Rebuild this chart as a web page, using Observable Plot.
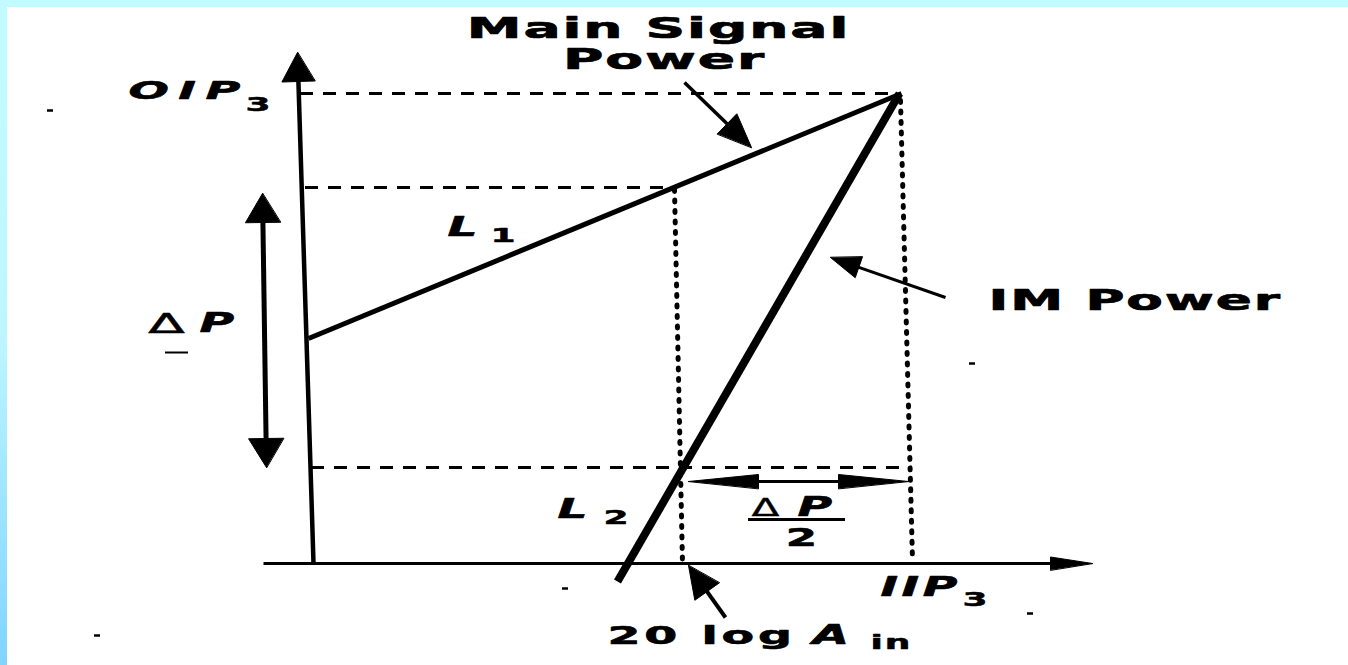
<!DOCTYPE html>
<html><head><meta charset="utf-8">
<script src="https://cdn.jsdelivr.net/npm/d3@7"></script>
<script src="https://cdn.jsdelivr.net/npm/@observablehq/plot@0.6"></script>
<style>
html,body{margin:0;padding:0;background:#fff;}
#wrap{position:relative;width:1348px;height:665px;overflow:hidden;background:#fff;}
#bandTop{position:absolute;left:0;top:0;width:1348px;height:7px;background:#c2fbff;}
#bandLeft{position:absolute;left:0;top:0;width:7px;height:665px;background:linear-gradient(#c2fbff 0%, #bdf6ff 50%, #80d4ff 100%);}
svg{display:block}
</style></head><body>
<div id="wrap"><div id="chart"></div><div id="bandTop"></div><div id="bandLeft"></div></div>
<script>
// Diagram units: origin at the crossing of the power axes, y upward.
const L1 = [{x: -5, y: 225}, {x: 588, y: 470}];      // main signal power line
const L2 = [{x: 304, y: -18}, {x: 586, y: 470}];     // IM power line
const dashedLevels = [
  {name: "OIP3", y: 470, x1: -13, x2: 584},
  {name: "P1", y: 376, x1: -8, x2: 357},
  {name: "P2", y: 96, x1: -2, x2: 599}
];
const dottedDrops = [
  {name: "20logAin", x1: 361, y1: 374, x2: 369, y2: 0},
  {name: "IIP3", x1: 587, y1: 463, x2: 599, y2: 3}
];
const arrowList = [
  {id: "yAxis", x1: 0, y1: 0, x2: -16, y2: 511, double: false},
  {id: "xAxis", x1: -50, y1: 0, x2: 779, y2: 0, double: false},
  {id: "deltaP", x1: -47, y1: 96, x2: -51, y2: 370, double: true},
  {id: "deltaP2", x1: 375, y1: 82, x2: 595, y2: 82, double: true},
  {id: "mainSignal", x1: 371, y1: 481, x2: 438, y2: 416, double: false},
  {id: "imPower", x1: 632, y1: 266, x2: 517, y2: 306, double: false},
  {id: "ain", x1: 412, y1: -54, x2: 375, y2: -2, double: false}
];
const titleLines = [
  {text: "Main Signal", x: 345, y: 526},
  {text: "Power", x: 351, y: 495}
];
const imLabel = [{text: "IM Power", x: 675, y: 254}];
const oipLabel = [{text: "OIP", x: -185, y: 465}];
const italicLabels = [
  {text: "L", x: 134, y: 328},
  {text: "L", x: 244, y: 46},
  {text: "P", x: -114, y: 232},
  {text: "P", x: 484, y: 48},
  {text: "IIP", x: 567, y: -32},
  {text: "A", x: 499, y: -80}
];
const subLabels = [
  {text: "3", x: -68, y: 453},
  {text: "1", x: 177, y: 322},
  {text: "2", x: 290, y: 40},
  {text: "3", x: 649, y: -42},
  {text: "in", x: 557, y: -85}
];
const deltaLeft = [{text: "Δ", x: -147, y: 231}];
const deltaFraction = [{text: "Δ", x: 452, y: 48}];
const uprightLabels = [{text: "20 log", x: 294, y: -80}];
const denominators = [{text: "2", x: 488, y: 18}];
const bars = [
  {name: "under ΔP", x1: -148, x2: -125, y: 211},
  {name: "ΔP/2 bar", x1: 435, x2: 532, y: 44}
];
const specks = [
  {x: -263, y: 453}, {x: -216, y: -72}, {x: 252, y: -25}, {x: 717, y: -50}, {x: 659, y: 200}
];

// styles (not data)
const arrowStyle = {
  yAxis: {w: 4.5, len: 29, wid: 33},
  xAxis: {w: 3, len: 42, wid: 13},
  deltaP: {w: 5, len: 29, wid: 35},
  deltaP2: {w: 3, len: 70, wid: 14},
  mainSignal: {w: 3.5, len: 34, wid: 28},
  imPower: {w: 3, len: 30, wid: 22},
  ain: {w: 4, len: 32, wid: 30}
};

// build shafts and heads
const shafts = [], heads = [];
for (const a of arrowList) {
  const s = arrowStyle[a.id];
  const dx = a.x2 - a.x1, dy = a.y2 - a.y1, L = Math.hypot(dx, dy);
  const ux = dx / L, uy = dy / L, nx = -uy, ny = ux;
  const head = (tx, ty, sx, sy, key) => {
    heads.push({id: key, x: tx, y: ty});
    heads.push({id: key, x: tx - sx * s.len + nx * s.wid / 2, y: ty - sy * s.len + ny * s.wid / 2});
    heads.push({id: key, x: tx - sx * s.len - nx * s.wid / 2, y: ty - sy * s.len - ny * s.wid / 2});
  };
  head(a.x2, a.y2, ux, uy, a.id + "-end");
  let sx1 = a.x1, sy1 = a.y1;
  if (a.double) {
    head(a.x1, a.y1, -ux, -uy, a.id + "-start");
    sx1 = a.x1 + ux * s.len * 0.8; sy1 = a.y1 + uy * s.len * 0.8;
  }
  shafts.push({x1: sx1, y1: sy1, x2: a.x2 - ux * s.len * 0.8, y2: a.y2 - uy * s.len * 0.8, w: s.w});
}

const font = "DejaVu Sans";
const textGroups = [
  {data: titleLines, anchor: "middle", size: 29, weight: "bold", style: "normal", sx: 1.9, ls: 1, sw: 0.7},
  {data: imLabel, anchor: "start", size: 28, weight: "bold", style: "normal", sx: 1.9, ls: 1, sw: 0.7},
  {data: oipLabel, anchor: "start", size: 25, weight: "bold", style: "italic", sx: 1.9, ls: 5, sw: 0.6},
  {data: italicLabels, anchor: "start", size: 27, weight: "bold", style: "italic", sx: 1.75, ls: 2, sw: 0.6},
  {data: subLabels, anchor: "start", size: 20, weight: "bold", style: "normal", sx: 1.8, ls: 1, sw: 0.5},
  {data: deltaLeft, anchor: "middle", size: 27, weight: "normal", style: "normal", sx: 2.0, ls: 0, sw: 0.4},
  {data: deltaFraction, anchor: "middle", size: 24, weight: "normal", style: "normal", sx: 1.7, ls: 0, sw: 0.4},
  {data: uprightLabels, anchor: "start", size: 25, weight: "bold", style: "normal", sx: 1.9, ls: 2, sw: 0.6},
  {data: denominators, anchor: "middle", size: 25, weight: "bold", style: "normal", sx: 1.8, ls: 0, sw: 0.6}
];

const chart = Plot.plot({
  width: 1348, height: 665,
  margin: 0,
  x: {domain: [-313, 1035], range: [0, 1348], axis: null},
  y: {domain: [-102, 563], range: [665, 0], axis: null},
  style: {background: "transparent", overflow: "visible"},
  marks: [
    Plot.ruleY(dashedLevels, {y: "y", x1: "x1", x2: "x2", stroke: "black", strokeWidth: 2.8, strokeDasharray: "13,10"}),
    Plot.link(dottedDrops, {x1: "x1", y1: "y1", x2: "x2", y2: "y2", stroke: "black", strokeWidth: 5, strokeDasharray: "2,8.5", strokeLinecap: "round"}),
    Plot.line(L1, {x: "x", y: "y", stroke: "black", strokeWidth: 5, strokeLinecap: "butt"}),
    Plot.line(L2, {x: "x", y: "y", stroke: "black", strokeWidth: 8, strokeLinecap: "butt"}),
    Plot.link(shafts, {x1: "x1", y1: "y1", x2: "x2", y2: "y2", stroke: "black", strokeWidth: "w", strokeLinecap: "butt"}),
    Plot.line(heads, {x: "x", y: "y", z: "id", fill: "black", stroke: "black", strokeWidth: 1, curve: "linear-closed"}),
    Plot.ruleY(bars, {y: "y", x1: "x1", x2: "x2", stroke: "black", strokeWidth: (d, i) => i === 0 ? 2 : 3}),
    Plot.ruleY(specks, {y: "y", x1: d => d.x - 3, x2: d => d.x + 3, stroke: "black", strokeWidth: 2.5}),
    ...textGroups.map(g => Plot.text(g.data, {x: "x", y: "y", text: "text", textAnchor: g.anchor, lineAnchor: "bottom",
      fontFamily: font, fontWeight: g.weight, fontStyle: g.style, fontSize: g.size, fill: "black",
      stroke: "black", strokeWidth: g.sw}))
  ]
});

// horizontal stretching of the wide typeface used in the original figure
const textMarks = chart.querySelectorAll('g[aria-label="text"]');
textMarks.forEach((g, k) => {
  const cfg = textGroups[k];
  if (!cfg) return;
  g.style.letterSpacing = cfg.ls + "px";
  g.setAttribute("paint-order", "normal");
  g.querySelectorAll("text").forEach(t => {
    let tr = t.getAttribute("transform") || "";
    if (!tr && (t.hasAttribute("x") || t.hasAttribute("y"))) {
      tr = `translate(${t.getAttribute("x") || 0},${t.getAttribute("y") || 0})`;
      t.removeAttribute("x"); t.removeAttribute("y");
    }
    t.setAttribute("transform", tr + ` scale(${cfg.sx},1)`);
  });
});
document.getElementById("chart").appendChild(chart);
</script></body></html>
